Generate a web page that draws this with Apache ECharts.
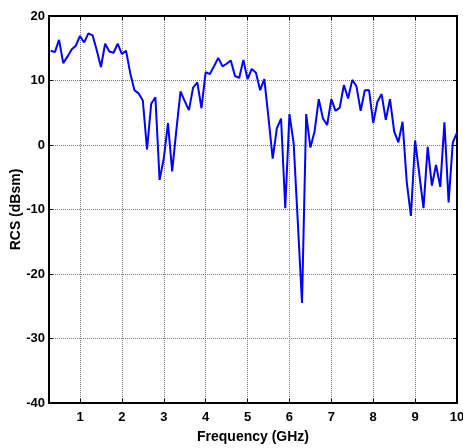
<!DOCTYPE html>
<html>
<head>
<meta charset="utf-8">
<script src="https://cdn.jsdelivr.net/npm/echarts@6/dist/echarts.min.js"></script>
<style>html,body{margin:0;padding:0;background:#fff;}#c{width:463px;height:448px;}</style>
</head>
<body>
<div id="c"></div>
<script>
var freqGHz = [0.3,0.4,0.5,0.6,0.7,0.8,0.9,1.0,1.1,1.2,1.3,1.4,1.5,1.6,1.7,1.8,1.9,2.0,2.1,2.2,2.3,2.4,2.5,2.6,2.7,2.8,2.9,3.0,3.1,3.2,3.3,3.4,3.5,3.6,3.7,3.8,3.9,4.0,4.1,4.2,4.3,4.4,4.5,4.6,4.7,4.8,4.9,5.0,5.1,5.2,5.3,5.4,5.5,5.6,5.7,5.8,5.9,6.0,6.1,6.2,6.3,6.4,6.5,6.6,6.7,6.8,6.9,7.0,7.1,7.2,7.3,7.4,7.5,7.6,7.7,7.8,7.9,8.0,8.1,8.2,8.3,8.4,8.5,8.6,8.7,8.8,8.9,9.0,9.1,9.2,9.3,9.4,9.5,9.6,9.7,9.8,9.9,10.0];
var rcsDBsm = [14.6,14.4,16.3,12.7,13.7,14.8,15.4,16.9,15.9,17.3,17.0,14.7,12.1,15.7,14.5,14.3,15.7,14.1,14.6,11.1,8.5,8.0,6.9,-0.7,6.4,7.4,-5.4,-2.1,3.4,-4.1,2.3,8.3,6.8,5.4,8.9,9.7,5.7,11.3,11.0,12.2,13.5,12.2,12.6,13.1,10.7,10.4,13.2,10.2,11.8,11.2,8.5,10.2,4.2,-2.1,2.6,4.1,-9.8,4.8,0.3,-12.0,-24.5,4.8,-0.4,2.1,7.1,4.1,3.1,7.1,5.3,5.8,9.3,7.2,10.1,9.1,5.3,8.5,8.5,3.4,6.7,7.9,3.9,7.1,2.1,0.4,3.6,-5.7,-11.0,0.7,-4.5,-9.8,-0.3,-6.3,-3.1,-6.5,3.5,-8.9,0.4,1.9];
var xTicks = [1,2,3,4,5,6,7,8,9,10];
var yTicks = [-40,-30,-20,-10,0,10,20];

var chart = echarts.init(document.getElementById('c'), null, {renderer:'canvas'});
var font = 'Liberation Sans, Arial, sans-serif';
var gridLine = {show:true, lineStyle:{color:'#7a7a7a', type:'dotted', width:1}};
var axLine = {show:true, onZero:false, lineStyle:{color:'#000', width:2}};
var pts = freqGHz.map(function(f,i){return [f, rcsDBsm[i]];});
chart.setOption({
  animation:false,
  grid:{left:49, right:6, top:16, bottom:45, containLabel:false, outerBoundsMode:'none'},
  xAxis:[{
    type:'value', min:0.26, max:10, position:'bottom',
    axisLine:axLine,
    axisTick:{show:true, inside:true, length:4, customValues:xTicks, lineStyle:{color:'#000'}},
    axisLabel:{show:true, customValues:xTicks, margin:8, color:'#000', fontFamily:font, fontWeight:'bold', fontSize:13},
    splitLine:gridLine,
    name:'Frequency (GHz)', nameLocation:'middle', nameGap:27, nameMoveOverlap:false,
    nameTextStyle:{color:'#000', fontFamily:font, fontWeight:'bold', fontSize:14}
  },{
    type:'value', min:0.26, max:10, position:'top',
    axisLine:axLine,
    axisTick:{show:true, inside:true, length:4, customValues:xTicks, lineStyle:{color:'#000'}},
    axisLabel:{show:false}, splitLine:{show:false}
  }],
  yAxis:[{
    type:'value', min:-40, max:20, interval:10, position:'left',
    axisLine:axLine,
    axisTick:{show:true, inside:true, length:4, lineStyle:{color:'#000'}},
    axisLabel:{margin:4, color:'#000', fontFamily:font, fontWeight:'bold', fontSize:13},
    splitLine:gridLine,
    name:'RCS (dBsm)', nameLocation:'middle', nameGap:26, nameRotate:90, nameMoveOverlap:false,
    nameTextStyle:{color:'#000', fontFamily:font, fontWeight:'bold', fontSize:14}
  },{
    type:'value', min:-40, max:20, interval:10, position:'right',
    axisLine:axLine,
    axisTick:{show:true, inside:true, length:4, lineStyle:{color:'#000'}},
    axisLabel:{show:false}, splitLine:{show:false}
  }],
  series:[{
    type:'line', data:pts, xAxisIndex:0, yAxisIndex:0,
    showSymbol:false, symbol:'none',
    lineStyle:{color:'#0000ff', width:2},
    z:5
  }]
});
</script>
</body>
</html>
